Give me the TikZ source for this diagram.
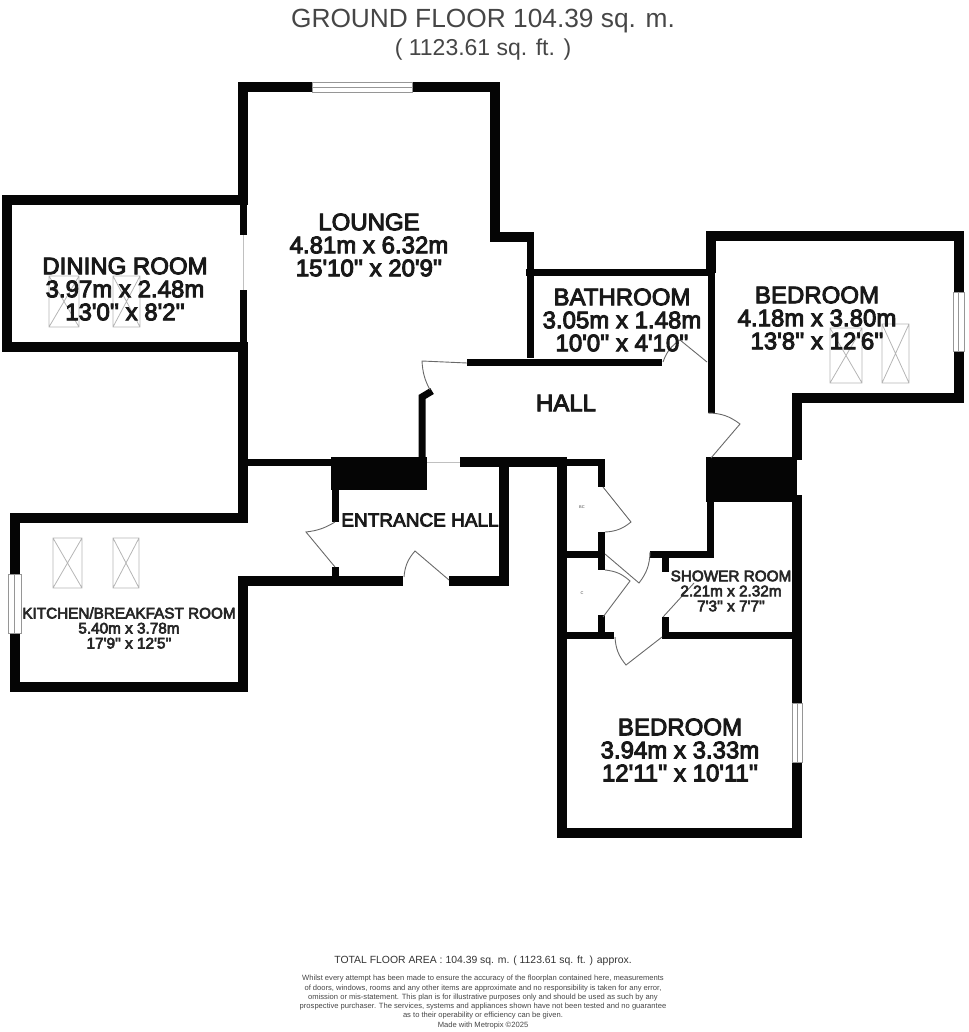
\documentclass[tikz,border=0pt]{standalone}
\usepackage{fontspec}
\setmainfont{Liberation Sans}
\newfontfamily\roomfont[FakeBold=4]{Liberation Sans}
\usetikzlibrary{positioning}
\definecolor{mywall}{RGB}{5,5,5}
\definecolor{myline}{RGB}{150,150,150}
\definecolor{mytext}{RGB}{70,70,70}

\begin{document}
\begin{tikzpicture}[x=1pt,y=-1pt,every node/.style={inner sep=0pt,align=center},
    wall/.style={draw=mywall,line width=10pt,miter limit=10},
    thinwall/.style={draw=mywall,line width=7pt},
    doorline/.style={draw=myline!70!black,line width=0.9pt},
    opening/.style={draw=myline!60,line width=0.9pt},
    windowline/.style={draw=myline,line width=0.7pt,fill=white},
    skylight/.style={draw=myline!70,line width=0.8pt},
    bigroom/.style={text=black!90,font=\fontsize{24}{23}\selectfont\roomfont},
    smallroom/.style={text=black!85,font=\fontsize{15.3}{15}\selectfont\roomfont}]
    \useasboundingbox (0,0) rectangle (968,1032);

    \node[font=\fontsize{26.3}{26}\selectfont,text=mytext] (title) at (483,21) {GROUND FLOOR 104.39 sq. m.};
    \node[font=\fontsize{23}{23}\selectfont,text=mytext,below=6pt of title] (titlesub) {( 1123.61 sq. ft. )};

    % outer walls
    \draw[wall] (243,205) -- (243,87) -- (312,87);
    \draw[wall] (412,87) -- (495,87) -- (495,237) -- (533.5,237);
    \draw[wall] (243,200) -- (7,200) -- (7,347) -- (248,347);
    \draw[thinwall] (243,195) -- (243,235);
    \draw[thinwall] (243,290) -- (243,350);
    \draw[wall] (243,350) -- (243,517.5) -- (14.5,517.5) -- (14.5,574);
    \draw[wall] (14.5,633) -- (14.5,687) -- (243,687) -- (243,581) -- (403,581);
    \draw[wall] (449,581) -- (504,581) -- (504,462) -- (460,462);
    \draw[wall] (504,462) -- (562,462) -- (562,833) -- (797,833) -- (797,762);
    \draw[wall] (797,703) -- (797,495);
    \draw[wall] (711,273) -- (711,236) -- (959,236) -- (959,292);
    \draw[wall] (959,351) -- (959,398) -- (797,398) -- (797,460);

    % inner walls
    \draw[thinwall] (530,237) -- (530,358);
    \draw[thinwall] (526,272) -- (712,272);
    \draw[thinwall] (711,272) -- (711,413);
    \draw[thinwall] (467,362) -- (662,362);
    \draw[thinwall] (432,391) -- (422,397) -- (422,457);
    \draw[thinwall] (248,462) -- (332,462);
    \draw[thinwall] (335,490) -- (335,522);
    \draw[thinwall] (335,567) -- (335,577);
    \draw[thinwall] (565,462.5) -- (601.5,462.5) -- (601.5,487);
    \draw[thinwall] (601.5,532) -- (601.5,570);
    \draw[thinwall] (601.5,615) -- (601.5,635);
    \draw[thinwall] (565,554) -- (601.5,554);
    \draw[thinwall] (565,635) -- (614,635);
    \draw[thinwall] (710.5,500) -- (710.5,554) -- (650,554);
    \draw[thinwall] (665.5,554) -- (665.5,572);
    \draw[thinwall] (665.5,617) -- (665.5,635);
    \draw[thinwall] (662,635) -- (795,635);
    \fill[mywall] (331,457) rectangle (427,490);
    \fill[mywall] (706,457) rectangle (797,502);

    % doors and openings
    \foreach \hx/\hy/\tx/\ty/\ex/\ey/\b in {
        467/363/422/361/430/390/-12,
        335/567/306/532/335/522/-12,
        449/580/415/551/404/577/-18,
        707/362/680/340/663/362/-18,
        711/458/740/424/708/413/-18,
        603/487/631/522/605/532/18,
        603/617/630/581/605/570/-18,
        605/554/639/583/650/552/-18,
        663/617/694/583/694/583/0,
        662/637/626/665/615/637/18} {
        \draw[doorline] (\hx,\hy) -- (\tx,\ty) to[bend left=\b] (\ex,\ey);
    }
    \draw[opening] (243,235) -- (243,290);
    \draw[opening] (427,462) -- (460,462);

    % windows
    \draw[windowline] (312,82) rectangle (412,92);
    \draw[windowline] (312,87) -- (412,87);
    \foreach \xa/\ya/\xb/\yb in {953/292/964/351,8/574/21/633,792/703/802/762} {
        \draw[windowline] (\xa,\ya) rectangle (\xb,\yb);
        \draw[windowline] ({(\xa+\xb)/2},\ya) -- ({(\xa+\xb)/2},\yb);
    }

    % skylights
    \foreach \xa/\ya/\xb/\yb in {49/276/79/327,113/276/140/327,53/538/82/588,113/538/139/588,830/328/862/383,882/324/909/383} {
        \draw[skylight] (\xa,\ya) rectangle (\xb,\yb) (\xa,\ya) -- (\xb,\yb) (\xa,\yb) -- (\xb,\ya);
    }

    \node[bigroom] (lounge) at (369,245) {LOUNGE\\4.81m x 6.32m\\15'10'' x 20'9''};
    \node[bigroom] (diningroom) at (125,289) {DINING ROOM\\3.97m x 2.48m\\13'0'' x 8'2''};
    \node[bigroom] (bathroom) at (622,320) {BATHROOM\\3.05m x 1.48m\\10'0'' x 4'10''};
    \node[bigroom] (bedroomeast) at (817,318) {BEDROOM\\4.18m x 3.80m\\13'8'' x 12'6''};
    \node[bigroom] (bedroomsouth) at (680,750) {BEDROOM\\3.94m x 3.33m\\12'11'' x 10'11''};
    \node[bigroom] (hall) at (566,403) {HALL};
    \node[text=black!90,font=\fontsize{19}{19}\selectfont\roomfont] (entrancehall) at (420,520) {ENTRANCE HALL};
    \node[smallroom] (kitchen) at (129,628) {KITCHEN/BREAKFAST ROOM\\5.40m x 3.78m\\17'9'' x 12'5''};
    \node[smallroom] (showerroom) at (731,591) {SHOWER ROOM\\2.21m x 2.32m\\7'3'' x 7'7''};
    \node[font=\fontsize{4}{4}\selectfont,text=mytext] (boiler) at (582,507) {BC};
    \node[font=\fontsize{4}{4}\selectfont,text=mytext] (cupboard) at (582,593) {C};

    \node[font=\fontsize{10.4}{10}\selectfont,text=black!80] (total) at (483,961) {TOTAL FLOOR AREA : 104.39 sq. m. ( 1123.61 sq. ft. ) approx.};
    \node[font=\fontsize{7.6}{9.3}\selectfont,text=mytext,below=9pt of total] (disclaimer) {Whilst every attempt has been made to ensure the accuracy of the floorplan contained here, measurements\\of doors, windows, rooms and any other items are approximate and no responsibility is taken for any error,\\omission or mis-statement. This plan is for illustrative purposes only and should be used as such by any\\prospective purchaser. The services, systems and appliances shown have not been tested and no guarantee\\as to their operability or efficiency can be given.\\Made with Metropix ©2025};
\end{tikzpicture}
\end{document}
